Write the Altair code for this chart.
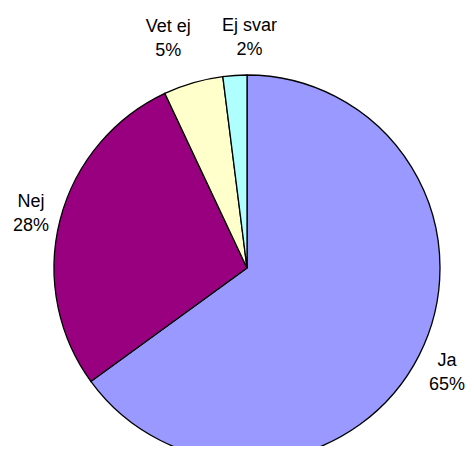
import altair as alt
import pandas as pd
import math

categories = ["Ja", "Nej", "Vet ej", "Ej svar"]
values = [65, 28, 5, 2]
pct_labels = ["65%", "28%", "5%", "2%"]
colors = ["#9999FF", "#990080", "#FFFFCC", "#AFFFFF"]

df = pd.DataFrame({
    "cat": categories,
    "value": values,
    "pct": pct_labels,
    "idx": list(range(len(categories))),
})

CX, CY, R = 239, 260, 193
# label placement styles: (radius, dx)
label_style = {"Ja": (229, -4), "Nej": (223, 0), "Vet ej": (239, -12), "Ej svar": (231, 17)}

arc = alt.Chart(df).mark_arc(outerRadius=R, stroke="black", strokeWidth=1.3).encode(
    theta=alt.Theta("value:Q", stack=True),
    order=alt.Order("idx:Q"),
    color=alt.Color("cat:N", scale=alt.Scale(domain=categories, range=colors), legend=None),
    x=alt.value(CX),
    y=alt.value(CY),
)

label_base = alt.Chart(df).transform_window(
    cum="sum(value)", sort=[alt.SortField("idx")]
).transform_joinaggregate(
    total="sum(value)"
).transform_calculate(
    frac="(datum.cum - datum.value / 2) / datum.total"
)

layers = [arc]
for cat in categories:
    r, dx = label_style[cat]
    for field, dy in (("cat", -6), ("pct", 18)):
        t = label_base.transform_filter(alt.datum.cat == cat).mark_text(
            radius=r, dx=dx, dy=dy, font="Liberation Sans", fontSize=18,
            color="black", align="center", baseline="alphabetic",
        ).encode(
            theta=alt.Theta("frac:Q", scale=alt.Scale(domain=[0, 1], range=[0, 2 * math.pi])),
            text=alt.Text(f"{field}:N"),
            x=alt.value(CX),
            y=alt.value(CY),
        )
        layers.append(t)

chart = alt.layer(*layers).resolve_scale(theta="independent").properties(
    width=458, height=438,
    autosize=alt.AutoSizeParams(type="none"),
    padding=0,
    background="white",
).configure_view(strokeWidth=0, stroke="transparent")

chart.save("out.html", embed_options={"renderer": "svg", "actions": False})
